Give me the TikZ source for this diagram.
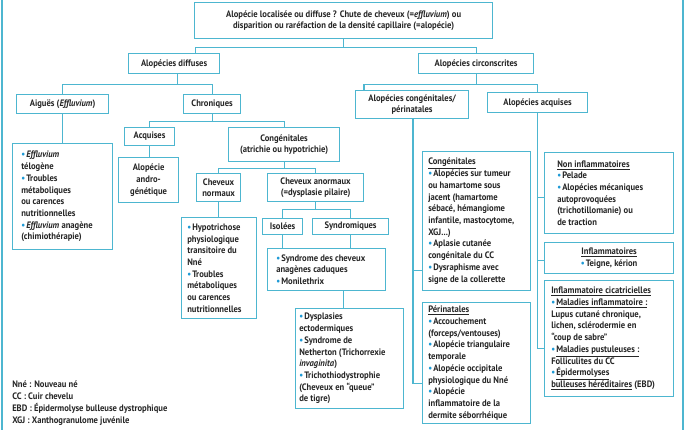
\documentclass[tikz,border=0pt]{standalone}
\usepackage{fontspec}
\setmainfont{PT Sans}[FakeStretch=0.92]
\usetikzlibrary{calc}
\definecolor{bord}{HTML}{4DB6D0}
\definecolor{bul}{HTML}{1E9AD6}
\definecolor{tx}{HTML}{262626}
\newcommand\myb{\textcolor{bul}{•}\hspace{0.12em}}
\newcommand\tf{\fontsize{7}{8.8}\selectfont\bfseries}
\begin{document}
\begin{tikzpicture}[x=0.75pt,y=-0.75pt,
  bx/.style={draw=bord, line width=0.9pt, inner sep=0pt, anchor=north west, align=center, font=\tf, text=tx},
  wh/.style 2 args={minimum width=#1*0.75pt, minimum height=#2*0.75pt},
  tl/.style={anchor=west, align=left, inner sep=0pt, font=\tf, text=tx},
  cn/.style={draw=bord, line width=0.9pt}]
\useasboundingbox (0,0) rectangle (686,430);
\fill[white] (0,0) rectangle (686,430);
% outer frame sides
\draw[cn] (2,0) -- (2,430);
\draw[cn] (683,0) -- (683,430);

\node[bx,wh={298}{36}] (top) at (194,2) {Alopécie localisée ou diffuse ? Chute de cheveux (=\textit{effluvium}) ou\\disparition ou raréfaction de la densité capillaire (=alopécie)};
\node[bx,wh={91}{20}] (diff) at (128,53) {Alopécies diffuses};
\node[bx,wh={115}{20}] (circ) at (418,53) {Alopécies circonscrites};
\node[bx,wh={92}{19}] (aig) at (16,94) {Aiguës (\textit{Effluvium})};
\node[bx,wh={57}{19}] (chro) at (183,94) {Chroniques};
\node[bx,wh={100}{106}] (eff) at (12,143) {};
\node[tl] (efft) at ($(eff.west)+(9,0)$) {\myb\textit{Effluvium}\\télogène\\\myb Troubles\\métaboliques\\ou carences\\nutritionnelles\\\myb\textit{Effluvium} anagène\\(chimiothérapie)};
\node[bx,wh={50}{18}] (acq) at (124,127) {Acquises};
\node[bx,wh={111}{34}] (cong1) at (228,127) {Congénitales\\(atrichie ou hypotrichie)};
\node[bx,wh={60}{45}] (andro) at (118,157) {Alopécie\\andro-\\génétique};
\node[bx,wh={44}{28}] (cnorm) at (196,173) {Cheveux\\normaux};
\node[bx,wh={96}{28}] (canorm) at (267,173) {Cheveux anormaux\\(=dysplasie pilaire)};
\node[bx,wh={75}{101}] (hypo) at (181,217) {};
\node[tl] (hypot) at ($(hypo.west)+(6,0)$) {\myb Hypotrichose\\physiologique\\transitoire du\\Nné\\\myb Troubles\\métaboliques\\ou carences\\nutritionnelles};
\node[bx,wh={40}{16}] (iso) at (262,218) {Isolées};
\node[bx,wh={76}{16}] (synd) at (312,218) {Syndromiques};
\node[bx,wh={118}{42}] (syn) at (267,248) {};
\node[tl] (synt) at ($(syn.west)+(9,0)$) {\myb Syndrome des cheveux\\anagènes caduques\\\myb Monilethrix};
\node[bx,wh={108}{100}] (dys) at (295,308) {};
\node[tl] (dyst) at ($(dys.west)+(4,0)$) {\myb Dysplasies\\ectodermiques\\\myb Syndrome de\\Netherton (Trichorrexie\\\textit{invaginita})\\\myb Trichothiodystrophie\\(Cheveux en “queue”\\de tigre)};

\node[bx,wh={113}{28}] (ccp) at (355,90) {Alopécies congénitales/\\périnatales};
\node[bx,wh={100}{20}] (aa) at (487,92) {Alopécies acquises};
\node[bx,wh={108}{139}] (cong2) at (422,151) {};
\node[tl] (cong2t) at ($(cong2.west)+(6,0)$) {\underline{Congénitales}\\\myb Alopécies sur tumeur\\ou hamartome sous\\jacent (hamartome\\sébacé, hémangiome\\infantile, mastocytome,\\XGJ...)\\\myb Aplasie cutanée\\congénitale du CC\\\myb Dysraphisme avec\\signe de la collerette};
\node[bx,wh={108}{121}] (peri) at (422,302) {};
\node[tl] (perit) at ($(peri.west)+(6,0)$) {\underline{Périnatales}\\\myb Accouchement\\(forceps/ventouses)\\\myb Alopécie triangulaire\\temporale\\\myb Alopécie occipitale\\physiologique du Nné\\\myb Alopécie\\inflammatoire de la\\dermite séborrhéique};
\node[bx,wh={129}{81}] (noninf) at (544,152) {};
\node[tl] (noninft) at ($(noninf.west)+(13,0)$) {\underline{Non inflammatoires}\\\myb Pelade\\\myb Alopécies mécaniques\\autoprovoquées\\(trichotillomanie) ou\\de traction};
\node[bx,wh={129}{31}] (inf) at (544,242) {\underline{Inflammatoires}\\\myb Teigne, kérion};
\node[bx,wh={129}{116}] (cic) at (544,280) {};
\node[tl] (cict) at ($(cic.west)+(7,0)$) {\underline{Inflammatoire cicatricielles}\\\myb\underline{Maladies inflammatoire :}\\Lupus cutané chronique,\\lichen, sclérodermie en\\“coup de sabre”\\\myb\underline{Maladies pustuleuses :}\\Folliculites du CC\\\myb\underline{Épidermolyses}\\\underline{bulleuses héréditaires} (EBD)};

\node[tl, anchor=north west] (leg) at (12,381) {Nné : Nouveau né\\CC : Cuir chevelu\\EBD : Épidermolyse bulleuse dystrophique\\XGJ : Xanthogranulome juvénile};

% connectors
\draw[cn] (top.south) -- ++(0,8) coordinate (j0);
\draw[cn] ($(diff.north)+(21.5,0)$) |- (j0) -| (circ.north);
\draw[cn] ($(diff.south)+(3.5,0)$) -- ++(0,10) coordinate (j1);
\draw[cn] (aig.north) |- (j1) -| (chro.north);
\draw[cn] (aig.south) -- (eff.north);
\draw[cn] (chro.south) -- ++(0,7) coordinate (j2);
\draw[cn] (acq.north) |- (j2) -| (cong1.north);
\draw[cn] (acq.south) -- (acq.south |- andro.north);
\draw[cn] (cong1.south) -- ++(0,6) coordinate (j3);
\draw[cn] (cnorm.north) |- (j3) -| (canorm.north);
\draw[cn] (cnorm.south) -- (cnorm.south |- hypo.north);
\draw[cn] (canorm.south) -- ++(0,7) coordinate (j4);
\draw[cn] (iso.north) |- (j4) -| (synd.north);
\draw[cn] (iso.south) -- (iso.south |- syn.north);
\draw[cn] (synd.south) -- (synd.south |- syn.north);
\draw[cn] ($(syn.south)+(17,0)$) coordinate (j5) -- (j5 |- dys.north);
\draw[cn] (circ.south) -- ++(0,10) coordinate (j6);
\draw[cn] ($(ccp.north west)+(9,0)$) |- (j6) -| (aa.north);
\draw[cn] ($(ccp.south west)+(58,0)$) coordinate (j7) |- ($(peri.west)+(0,20.5)$);
\draw[cn] ($(cong2.west)+(0,49.5)$) coordinate (j8) -- (j8 -| j7);
\draw[cn] (aa.south) |- ($(cic.west)+(0,10)$);
\draw[cn] ($(noninf.west)+(0,4.5)$) coordinate (j9) -- (j9 -| aa.south);
\draw[cn] ($(inf.west)+(0,2.5)$) coordinate (j10) -- (j10 -| aa.south);
\end{tikzpicture}
\end{document}
